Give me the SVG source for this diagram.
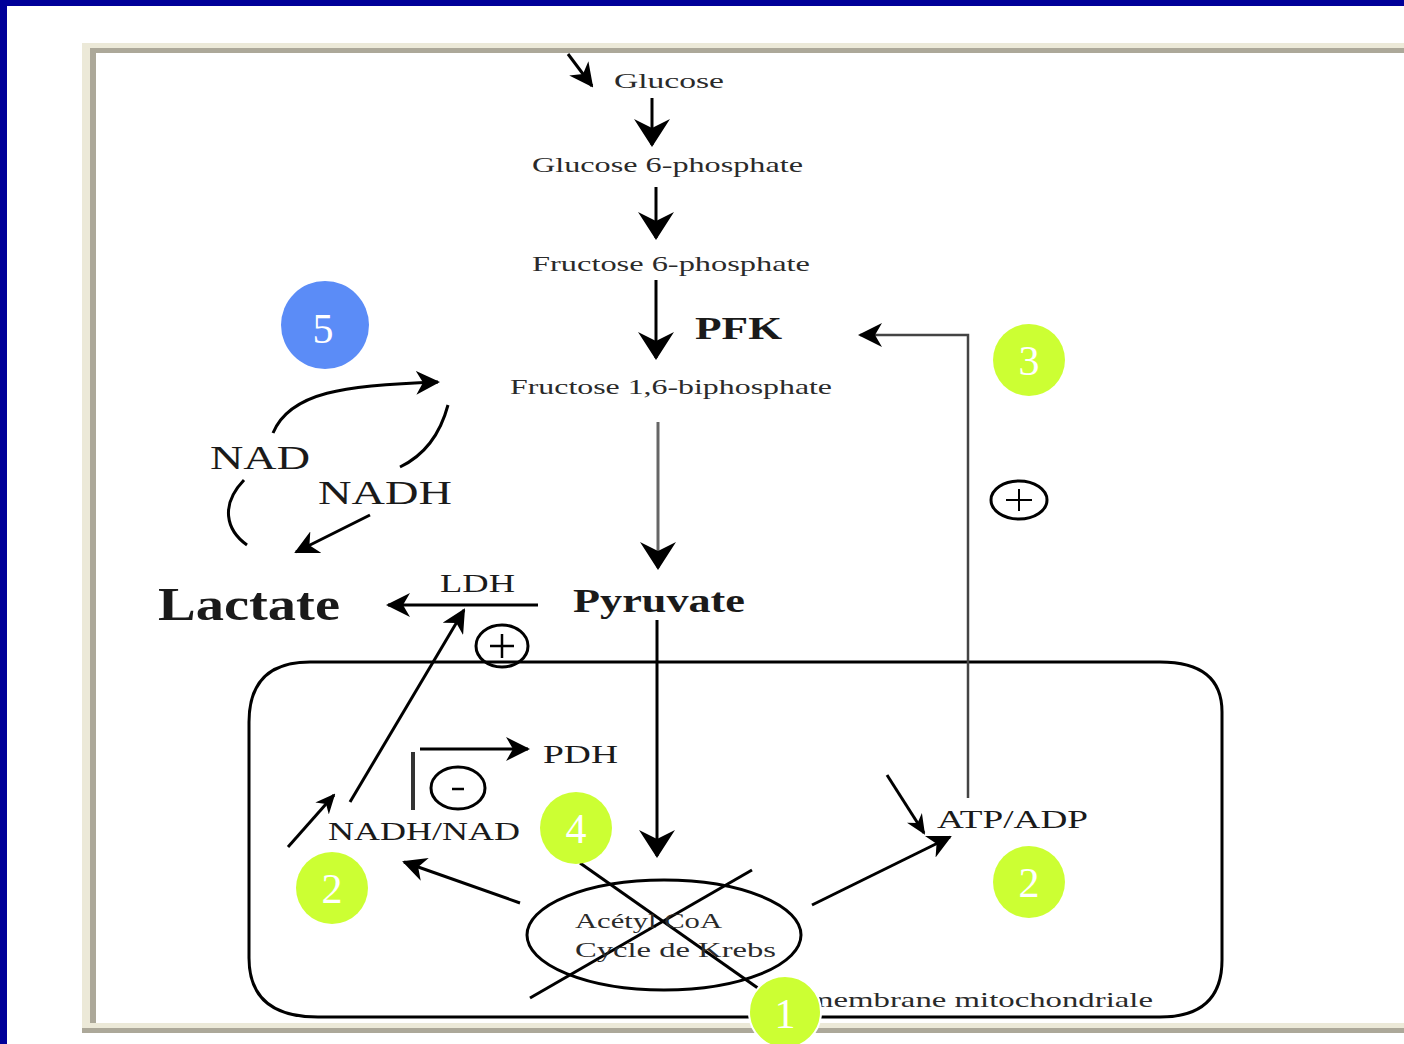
<svg xmlns="http://www.w3.org/2000/svg" width="1404" height="1044" viewBox="0 0 1404 1044">
<style>
  .t { font-family: "Liberation Serif", "Times New Roman", serif; fill: #1a1a1a; }
  .sm { font-size: 21px; fill: #2a2a2a; }
  .md { font-size: 26px; }
  .lg { font-size: 34px; }
  .ln { stroke: #000; fill: none; stroke-width: 3; }
  .badge { fill: #CCFF33; }
  .num { font-family: "Liberation Serif", "Times New Roman", serif; fill: #ffffff; text-anchor: middle; font-size: 42px; }
</style>
<defs>
  <marker id="big" viewBox="0 0 28 36" refX="26" refY="18" markerWidth="28" markerHeight="36" markerUnits="userSpaceOnUse" orient="auto" preserveAspectRatio="none">
    <path d="M0,0 L28,18 L0,36 L9,18 z" fill="#000"/>
  </marker>
  <marker id="med" viewBox="0 0 24 24" refX="22" refY="12" markerWidth="24" markerHeight="24" markerUnits="userSpaceOnUse" orient="auto" preserveAspectRatio="none">
    <path d="M0,0 L24,12 L0,24 L7,12 z" fill="#000"/>
  </marker>
  <marker id="sml" viewBox="0 0 20 18" refX="18" refY="9" markerWidth="20" markerHeight="18" markerUnits="userSpaceOnUse" orient="auto" preserveAspectRatio="none">
    <path d="M0,0 L20,9 L0,18 L6,9 z" fill="#000"/>
  </marker>
</defs>

<!-- background -->
<rect x="0" y="0" width="1404" height="1044" fill="#000099"/>
<rect x="7" y="6" width="1397" height="1038" fill="#ffffff"/>

<!-- picture frame -->
<g id="frame">
  <rect x="82" y="43" width="1322" height="5" fill="#ECE9D8"/>
  <rect x="90" y="48" width="1314" height="5" fill="#ACA899"/>
  <rect x="82" y="43" width="8" height="985" fill="#ECE9D8"/>
  <rect x="90" y="48" width="6" height="975" fill="#ACA899"/>
  <rect x="90" y="1023" width="1314" height="5" fill="#ECE9D8"/>
  <rect x="82" y="1028" width="1322" height="5" fill="#ACA899"/>
</g>

<!-- mitochondrion -->
<g id="mitochondrie">
  <path d="M310,662 L1160,662 Q1222,662 1222,712 L1222,960 Q1222,1017 1160,1017 L318,1017 Q249,1017 249,958 L249,722 Q249,662 310,662 Z" class="ln" stroke-width="3.5"/>
  <text class="t sm" x="808" y="1007" textLength="345" lengthAdjust="spacingAndGlyphs">membrane mitochondriale</text>
</g>

<!-- connectors -->
<g id="connectors">
  <line x1="568" y1="54" x2="592" y2="86" class="ln" stroke-width="3" marker-end="url(#med)"/>
  <line x1="652" y1="98" x2="652" y2="145" class="ln" stroke-width="2.5" marker-end="url(#big)"/>
  <line x1="656" y1="187" x2="656" y2="238" class="ln" stroke-width="3" marker-end="url(#big)"/>
  <line x1="656" y1="280" x2="656" y2="358" class="ln" stroke-width="3.5" marker-end="url(#big)"/>
  <line x1="658" y1="422" x2="658" y2="568" stroke="#666" stroke-width="3" marker-end="url(#big)"/>
  <line x1="657" y1="620" x2="657" y2="856" class="ln" stroke-width="4" marker-end="url(#big)"/>
  <line x1="538" y1="605" x2="388" y2="605" class="ln" stroke-width="4" marker-end="url(#med)"/>
  <line x1="350" y1="802" x2="464" y2="610" class="ln" stroke-width="2.5" marker-end="url(#med)"/>
  <line x1="288" y1="847" x2="334" y2="795" class="ln" stroke-width="2.5" marker-end="url(#sml)"/>
  <line x1="413" y1="752" x2="413" y2="810" stroke="#333" stroke-width="4"/>
  <line x1="420" y1="749" x2="528" y2="749" class="ln" stroke-width="2.5" marker-end="url(#med)"/>
  <line x1="520" y1="903" x2="404" y2="862" class="ln" stroke-width="3" marker-end="url(#med)"/>
  <line x1="812" y1="905" x2="950" y2="837" class="ln" stroke-width="3" marker-end="url(#med)"/>
  <line x1="887" y1="775" x2="924" y2="833" class="ln" stroke-width="3" marker-end="url(#sml)"/>
  <polyline points="968,798 968,335 860,335" stroke="#444" stroke-width="2.5" fill="none" marker-end="url(#med)"/>
  <path d="M273,433 C290,392 345,385 438,382" class="ln" stroke-width="3" marker-end="url(#med)"/>
  <path d="M448,405 C440,435 425,455 400,467" class="ln" stroke-width="3"/>
  <path d="M244,480 C220,505 226,530 247,545" class="ln" stroke-width="3"/>
  <line x1="370" y1="515" x2="296" y2="552" class="ln" stroke-width="3" marker-end="url(#med)"/>
  <line x1="580" y1="863" x2="772" y2="998" class="ln" stroke-width="3"/>
  <line x1="752" y1="870" x2="530" y2="998" class="ln" stroke-width="3"/>
</g>

<!-- nodes -->
<g id="glucose"><text class="t sm" x="614" y="88" font-size="22" textLength="110" lengthAdjust="spacingAndGlyphs">Glucose</text></g>
<g id="g6p"><text class="t sm" x="532" y="172" textLength="271" lengthAdjust="spacingAndGlyphs">Glucose 6-phosphate</text></g>
<g id="f6p"><text class="t sm" x="532" y="271" textLength="278" lengthAdjust="spacingAndGlyphs">Fructose 6-phosphate</text></g>
<g id="pfk"><text class="t" x="695" y="339" font-size="32" font-weight="bold" textLength="87" lengthAdjust="spacingAndGlyphs">PFK</text></g>
<g id="f16bp"><text class="t sm" x="510" y="394" textLength="322" lengthAdjust="spacingAndGlyphs">Fructose 1,6-biphosphate</text></g>
<g id="pyruvate"><text class="t" x="573" y="612" font-size="34" font-weight="bold" textLength="172" lengthAdjust="spacingAndGlyphs">Pyruvate</text></g>
<g id="ldh"><text class="t md" x="440" y="592" textLength="75" lengthAdjust="spacingAndGlyphs">LDH</text></g>
<g id="lactate"><text class="t" x="158" y="620" font-size="46" font-weight="bold" textLength="182" lengthAdjust="spacingAndGlyphs">Lactate</text></g>
<g id="nad"><text class="t lg" x="210" y="469" textLength="100" lengthAdjust="spacingAndGlyphs">NAD</text></g>
<g id="nadh"><text class="t lg" x="318" y="504" textLength="134" lengthAdjust="spacingAndGlyphs">NADH</text></g>
<g id="plus-ldh">
  <ellipse cx="502" cy="646" rx="26" ry="21" class="ln" stroke-width="2.5"/>
  <path d="M502,634 V658 M490,646 H514" stroke="#000" stroke-width="2.5"/>
</g>
<g id="plus-pfk">
  <ellipse cx="1019" cy="500" rx="28" ry="19" class="ln" stroke-width="2.5"/>
  <path d="M1019,489 V511 M1006,500 H1032" stroke="#000" stroke-width="2"/>
</g>
<g id="pdh"><text class="t md" x="543" y="763" textLength="75" lengthAdjust="spacingAndGlyphs">PDH</text></g>
<g id="minus">
  <ellipse cx="458" cy="788" rx="27" ry="21" class="ln" stroke-width="2.5"/>
  <line x1="452" y1="789" x2="464" y2="789" stroke="#000" stroke-width="2.5"/>
</g>
<g id="nadh-nad"><text class="t md" x="328" y="840" textLength="192" lengthAdjust="spacingAndGlyphs">NADH/NAD</text></g>
<g id="atp-adp"><text class="t md" x="937" y="828" textLength="151" lengthAdjust="spacingAndGlyphs">ATP/ADP</text></g>
<g id="krebs">
  <ellipse cx="664" cy="935" rx="137" ry="55" class="ln" stroke-width="3"/>
  <text class="t sm" x="575" y="928" font-size="22" textLength="147" lengthAdjust="spacingAndGlyphs">Acétyl CoA</text>
  <text class="t sm" x="575" y="957" font-size="22" textLength="201" lengthAdjust="spacingAndGlyphs">Cycle de Krebs</text>
</g>

<!-- numbered badges -->
<g id="badge5"><circle cx="325" cy="325" r="44" fill="#5B8CF7"/><text class="num" x="323" y="343" font-size="50">5</text></g>
<g id="badge3"><circle cx="1029" cy="360" r="36" class="badge"/><text class="num" x="1029" y="375">3</text></g>
<g id="badge4"><circle cx="576" cy="828" r="36" class="badge"/><text class="num" x="576" y="843">4</text></g>
<g id="badge2a"><circle cx="332" cy="888" r="36" class="badge"/><text class="num" x="332" y="903">2</text></g>
<g id="badge2b"><circle cx="1029" cy="882" r="36" class="badge"/><text class="num" x="1029" y="897">2</text></g>
<g id="badge1"><circle cx="785" cy="1012" r="36" class="badge" stroke="#ffffff" stroke-width="2"/><text class="num" x="785" y="1028">1</text></g>
</svg>
